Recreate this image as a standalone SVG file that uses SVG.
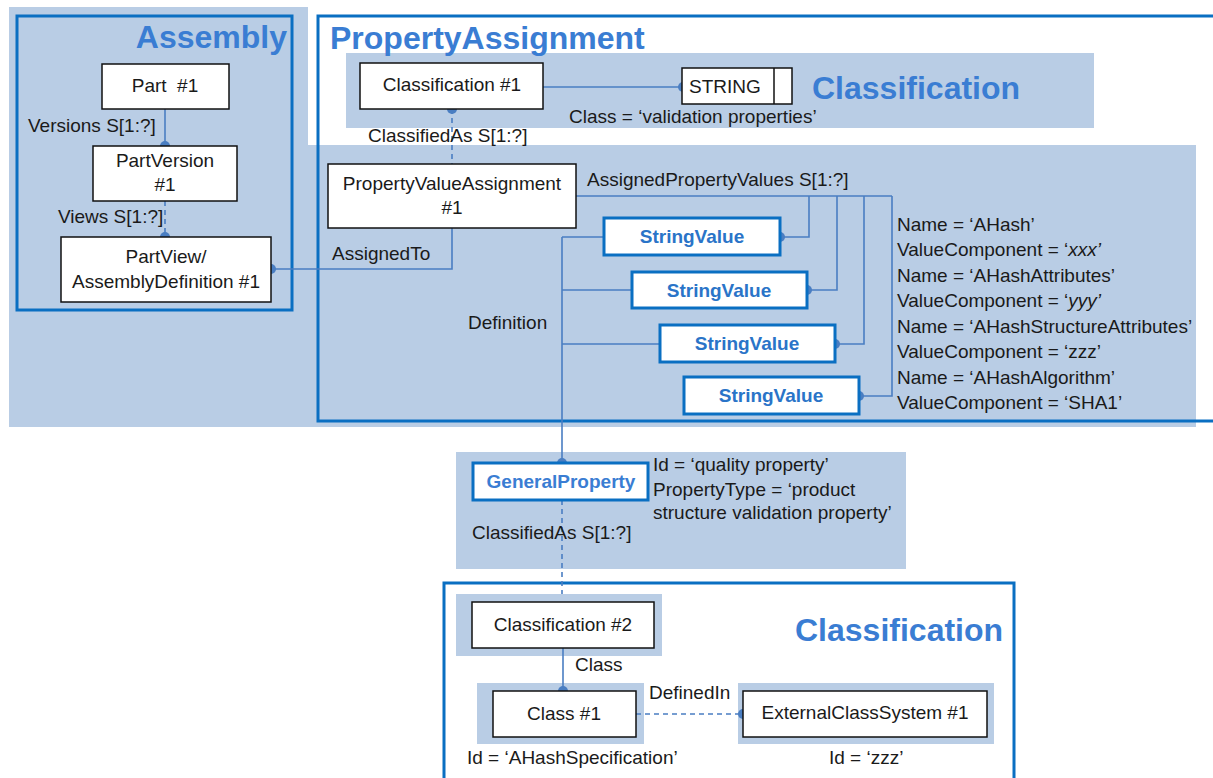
<svg xmlns="http://www.w3.org/2000/svg" width="1213" height="778" viewBox="0 0 1213 778">
<style>
.bg{fill:#b9cde5}
.frame{fill:none;stroke:#0a6fc2;stroke-width:3}
.node{fill:#fff;stroke:#111;stroke-width:1.5}
.bnode{fill:#fff;stroke:#0a6fc2;stroke-width:3}
.t{font-family:"Liberation Sans",Arial,sans-serif;font-size:19px;fill:#1a1a1a}
.c{text-anchor:middle}
.title{font-family:"Liberation Sans",Arial,sans-serif;font-weight:bold;font-size:32px;fill:#3a7dd3}
.bt{font-family:"Liberation Sans",Arial,sans-serif;font-size:19px;font-weight:bold;fill:#2a74c8;text-anchor:middle}
.ln{fill:none;stroke:#4a7ec2;stroke-width:1.6}
.dash{stroke-dasharray:5,4}
.dot{fill:#4a7ec2}
</style>
<g id="backgrounds">
<path class="bg" d="M9,7 H308 V145 H1196 V427 H9 Z"/>
<rect class="bg" x="346" y="53" width="748" height="75"/>
<rect class="bg" x="456" y="452" width="450" height="117"/>
<rect class="bg" x="456" y="594" width="206" height="62"/>
<rect class="bg" x="477" y="683" width="167" height="61"/>
<rect class="bg" x="738" y="683" width="256" height="61"/>
</g>
<g id="frames">
<rect class="frame" x="17" y="16" width="275" height="294"/>
<rect class="frame" x="318" y="16" width="910" height="405"/>
<rect class="frame" x="444" y="583" width="570" height="210"/>
<text class="title" x="287" y="48" text-anchor="end">Assembly</text>
<text class="title" x="330" y="49">PropertyAssignment</text>
<text class="title" x="812" y="99">Classification</text>
<text class="title" x="795" y="641">Classification</text>
</g>
<g id="connectors">
<line class="ln" x1="165" y1="109" x2="165" y2="146"/>
<circle class="dot" cx="165" cy="146" r="5"/>
<line class="ln dash" x1="165" y1="201" x2="165" y2="237"/>
<circle class="dot" cx="165" cy="237" r="5"/>
<path class="ln" d="M452,228 V269 H271"/>
<circle class="dot" cx="271" cy="269" r="5"/>
<line class="ln dash" x1="452" y1="109" x2="452" y2="164"/>
<circle class="dot" cx="452" cy="109" r="5"/>
<line class="ln" x1="543" y1="87" x2="683" y2="87"/>
<circle class="dot" cx="683" cy="87" r="5"/>
<path class="ln" d="M576,196 H892 M809,196 V237 H780 M837,196 V290 H807 M864,196 V344 H835 M892,196 V396 H859"/>
<circle class="dot" cx="780" cy="237" r="5"/>
<circle class="dot" cx="807" cy="290" r="5"/>
<circle class="dot" cx="835" cy="344" r="5"/>
<circle class="dot" cx="859" cy="396" r="5"/>
<path class="ln" d="M562,237 V463 M562,237 H604 M562,290 H632 M562,344 H660"/>
<circle class="dot" cx="562" cy="463" r="5"/>
<line class="ln dash" x1="562" y1="500" x2="562" y2="594"/>
<line class="ln" x1="563" y1="648" x2="563" y2="691"/>
<circle class="dot" cx="563" cy="691" r="5"/>
<line class="ln dash" x1="636" y1="714" x2="743" y2="714"/>
<circle class="dot" cx="743" cy="714" r="5"/>
</g>
<g id="labels">
<text class="t" x="28" y="132">Versions S[1:?]</text>
<text class="t" x="58" y="223">Views S[1:?]</text>
<text class="t" x="368" y="142">ClassifiedAs S[1:?]</text>
<text class="t" x="569" y="123">Class = ‘validation properties’</text>
<text class="t" x="587" y="186">AssignedPropertyValues S[1:?]</text>
<text class="t" x="332" y="260">AssignedTo</text>
<text class="t" x="468" y="329">Definition</text>
<text class="t" x="897" y="231">Name = ‘AHash’</text>
<text class="t" x="897" y="256">ValueComponent = ‘<tspan font-style="italic">xxx’</tspan></text>
<text class="t" x="897" y="282">Name = ‘AHashAttributes’</text>
<text class="t" x="897" y="307">ValueComponent = ‘<tspan font-style="italic">yyy’</tspan></text>
<text class="t" x="897" y="333">Name = ‘AHashStructureAttributes’</text>
<text class="t" x="897" y="358">ValueComponent = ‘zzz’</text>
<text class="t" x="897" y="384">Name = ‘AHashAlgorithm’</text>
<text class="t" x="897" y="409">ValueComponent = ‘SHA1’</text>
<text class="t" x="653" y="471">Id = ‘quality property’</text>
<text class="t" x="653" y="496">PropertyType = ‘product</text>
<text class="t" x="653" y="519">structure validation property’</text>
<text class="t" x="472" y="539">ClassifiedAs S[1:?]</text>
<text class="t" x="575" y="671">Class</text>
<text class="t" x="649" y="699">DefinedIn</text>
<text class="t" x="467" y="764">Id = ‘AHashSpecification’</text>
<text class="t" x="829" y="764">Id = ‘zzz’</text>
</g>
<g id="part1"><rect class="node" x="102" y="64" width="127" height="45"/><text class="t c" x="165" y="92" xml:space="preserve">Part  #1</text></g>
<g id="partversion1"><rect class="node" x="93" y="146" width="144" height="55"/><text class="t c" x="165" y="167">PartVersion</text><text class="t c" x="165" y="191">#1</text></g>
<g id="partview1"><rect class="node" x="61" y="237" width="210" height="65"/><text class="t c" x="166" y="263">PartView/</text><text class="t c" x="166" y="288">AssemblyDefinition #1</text></g>
<g id="classification1"><rect class="node" x="360" y="63" width="183" height="46"/><text class="t c" x="452" y="91">Classification #1</text></g>
<g id="string"><rect class="node" x="682" y="68" width="110" height="36"/><line class="node" x1="774" y1="68" x2="774" y2="104"/><text class="t" x="689" y="93">STRING</text></g>
<g id="pva1"><rect class="node" x="328" y="164" width="248" height="64"/><text class="t c" x="452" y="190">PropertyValueAssignment</text><text class="t c" x="452" y="214">#1</text></g>
<g id="sv1"><rect class="bnode" x="604" y="218" width="176" height="37"/><text class="bt" x="692" y="243">StringValue</text></g>
<g id="sv2"><rect class="bnode" x="632" y="272" width="175" height="36"/><text class="bt" x="719" y="297">StringValue</text></g>
<g id="sv3"><rect class="bnode" x="660" y="325" width="175" height="37"/><text class="bt" x="747" y="350">StringValue</text></g>
<g id="sv4"><rect class="bnode" x="684" y="377" width="175" height="37"/><text class="bt" x="771" y="402">StringValue</text></g>
<g id="generalproperty"><rect class="bnode" x="473" y="463" width="175" height="37"/><text class="bt" x="561" y="488" style="fill:#3a7dd3">GeneralProperty</text></g>
<g id="classification2"><rect class="node" x="472" y="602" width="182" height="46"/><text class="t c" x="563" y="631">Classification #2</text></g>
<g id="class1"><rect class="node" x="493" y="691" width="143" height="46"/><text class="t c" x="564" y="720">Class #1</text></g>
<g id="ecs1"><rect class="node" x="743" y="691" width="244" height="46"/><text class="t c" x="865" y="719">ExternalClassSystem #1</text></g>
</svg>
